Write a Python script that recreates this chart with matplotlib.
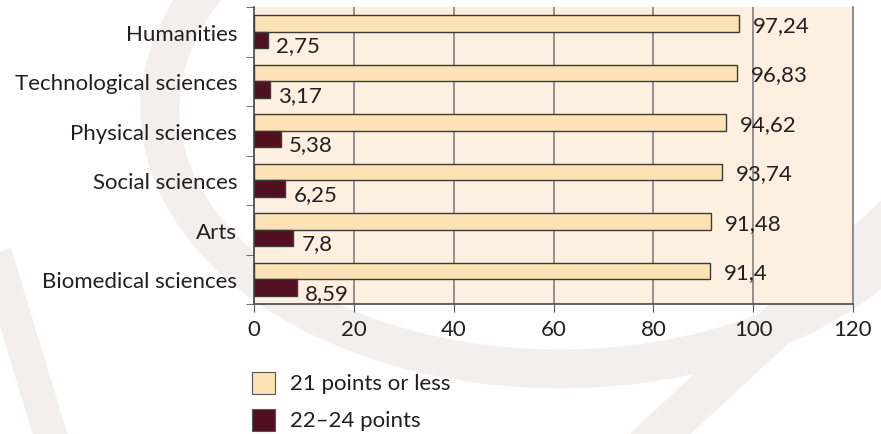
import numpy as np
import matplotlib.pyplot as plt
from matplotlib.patches import Rectangle, Ellipse

plt.rcParams['font.family'] = ['Lato', 'DejaVu Sans']

# Datos (de arriba hacia abajo)
categorias = ['Humanities', 'Technological sciences', 'Physical sciences',
              'Social sciences', 'Arts', 'Biomedical sciences']
hasta_21 = [97.24, 96.83, 94.62, 93.74, 91.48, 91.4]
de_22_24 = [2.75, 3.17, 5.38, 6.25, 7.8, 8.59]
etiquetas_21 = ['97,24', '96,83', '94,62', '93,74', '91,48', '91,4']
etiquetas_22 = ['2,75', '3,17', '5,38', '6,25', '7,8', '8,59']
leyenda = ['21 points or less', '22\u201324 points']

color_claro = '#fde2b6'
color_oscuro = '#520f1f'
fondo = '#fdf0e0'
texto_c = '#231f20'
fs = 16

fig = plt.figure(figsize=(8.81, 4.35), dpi=100)

# marca de agua tenue
fondo_ax = fig.add_axes([0, 0, 1, 1], zorder=-1)
fondo_ax.set_xlim(0, 881)
fondo_ax.set_ylim(435, 0)
fondo_ax.axis('off')
fondo_ax.add_patch(Ellipse((560, 110), 800, 520, fill=False, lw=28, ec='#f4efef'))
fondo_ax.plot([660, 881], [435, 230], color='#f4efef', lw=30)
fondo_ax.plot([0, 50], [270, 435], color='#f4efef', lw=24)

ax = fig.add_axes([254 / 881, 1 - 305 / 435, 599 / 881, 297 / 435])
ax.set_facecolor(fondo)

n = len(categorias)
y = np.arange(n)[::-1]  # Humanities arriba
alto = 1 / 3

ax.barh(y + alto / 2, hasta_21, height=alto, color=color_claro,
        edgecolor='#3a3a3a', linewidth=1.0, zorder=3)
ax.barh(y - alto / 2, de_22_24, height=alto, color=color_oscuro,
        edgecolor='#3a3a3a', linewidth=1.0, zorder=3)

for yi, v, t in zip(y, hasta_21, etiquetas_21):
    ax.annotate(t, (v, yi + alto / 2), xytext=(10, -1), textcoords='offset points',
                va='center', ha='left', fontsize=fs, color=texto_c, zorder=4)
for yi, v, t in zip(y, de_22_24, etiquetas_22):
    ax.annotate(t, (v, yi - alto / 2), xytext=(6, -4), textcoords='offset points',
                va='center', ha='left', fontsize=fs, color=texto_c, zorder=4)

ax.set_xlim(0, 120)
ax.set_ylim(-0.5, n - 0.5)
ax.set_xticks(np.arange(0, 121, 20))
ax.tick_params(axis='x', labelsize=fs, length=6, color='#555555', labelcolor=texto_c, pad=5)

ax.set_yticks(y)
ax.set_yticklabels(categorias, fontsize=fs, color=texto_c)
ax.set_yticks(np.arange(-0.5, n, 1), minor=True)
ax.tick_params(axis='y', which='major', length=0, pad=12)
ax.tick_params(axis='y', which='minor', length=6, color='#555555')

ax.grid(axis='x', color='#8a8a8a', linewidth=1.3, zorder=1)

ax.spines['top'].set_visible(False)
ax.spines['right'].set_color('#8a8a8a')
ax.spines['right'].set_linewidth(1.3)
ax.spines['left'].set_color('#555555')
ax.spines['bottom'].set_color('#555555')
ax.spines['left'].set_linewidth(1.3)
ax.spines['bottom'].set_linewidth(1.3)

# leyenda manual
for i, (texto, c) in enumerate(zip(leyenda, [color_claro, color_oscuro])):
    y0 = 373 + i * 37
    fondo_ax.add_patch(Rectangle((252, y0), 23, 22, facecolor=c, edgecolor='#555555', lw=0.8))
    fondo_ax.text(290, y0 + 11, texto, fontsize=fs, va='center', ha='left', color=texto_c)

fig.savefig('out.png', dpi=100)
